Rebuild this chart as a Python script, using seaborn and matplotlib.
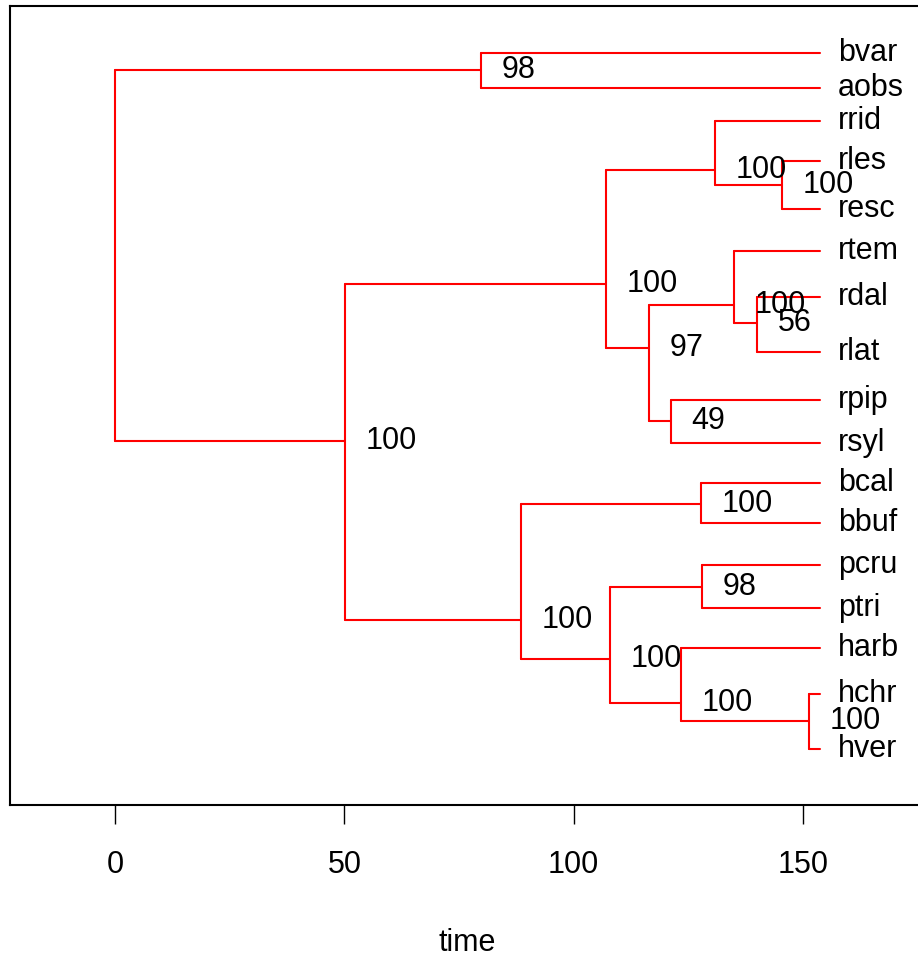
import matplotlib
matplotlib.use("Agg")
import matplotlib.pyplot as plt
import seaborn as sns
import pandas as pd

# ---- data ----
tip_labels = ["bvar", "aobs", "rrid", "rles", "resc", "rtem", "rdal", "rlat",
              "rpip", "rsyl", "bcal", "bbuf", "pcru", "ptri", "harb", "hchr", "hver"]
tip_y = [1.18, 2.06, 2.88, 3.88, 5.09, 6.14, 7.29, 8.65, 9.85, 10.93,
         11.95, 12.93, 13.98, 15.06, 16.07, 17.22, 18.60]
tip_parent = [1, 1, 4, 5, 5, 7, 8, 8, 9, 9, 11, 11, 13, 13, 14, 15, 15]
tip_time = 153.7

node_time = [0.0, 79.8, 50.1, 107.0, 130.8, 145.4, 116.4, 134.9, 140.0,
             121.2, 88.5, 127.8, 107.9, 128.0, 123.4, 151.3]
node_y = [6.24, 1.60, 10.88, 6.97, 4.11, 4.49, 8.57, 7.49, 7.94,
          10.40, 15.36, 12.46, 16.34, 14.54, 17.44, 17.89]
node_parent = [-1, 0, 0, 2, 3, 4, 3, 6, 7, 6, 2, 10, 10, 12, 12, 14]
node_support = [None, 98, 100, 100, 100, 100, 97, 100, 56, 49,
                100, 100, 100, 98, 100, 100]

# ---- build edge segments (horizontal + vertical) ----
children = {i: [] for i in range(len(node_time))}
for i, p in enumerate(node_parent):
    if p >= 0:
        children[p].append(node_y[i])
for j, p in enumerate(tip_parent):
    children[p].append(tip_y[j])

rows = []
seg = 0
for i, p in enumerate(node_parent):
    if p >= 0:
        rows += [(seg, node_time[p], node_y[i]), (seg, node_time[i], node_y[i])]
        seg += 1
for j, p in enumerate(tip_parent):
    rows += [(seg, node_time[p], tip_y[j]), (seg, tip_time, tip_y[j])]
    seg += 1
for i in range(len(node_time)):
    ys = children[i]
    rows += [(seg, node_time[i], min(ys)), (seg, node_time[i], max(ys))]
    seg += 1
df = pd.DataFrame(rows, columns=["seg", "time", "y"])

# ---- plot ----
sns.set_style("white")
plt.rcParams["font.family"] = ["Liberation Sans", "DejaVu Sans"]

W, H = 918, 957
fig = plt.figure(figsize=(W / 100, H / 100), dpi=100)
ax = fig.add_axes([10 / W, (H - 805) / H, (925 - 10) / W, (805 - 6) / H])

sns.lineplot(data=df, x="time", y="y", units="seg", estimator=None, sort=False,
             color="#FF0000", linewidth=1.5, ax=ax, legend=False)

fs = 22
for lab, y in zip(tip_labels, tip_y):
    ax.annotate(lab, (tip_time, y), xytext=(13, 0), textcoords="offset points",
                ha="left", va="center", fontsize=fs, color="black")
for t, y, s in zip(node_time, node_y, node_support):
    if s is not None:
        ax.annotate(str(s), (t, y), xytext=(15, 0), textcoords="offset points",
                    ha="left", va="center", fontsize=fs, color="black")

ax.set_xlim(-22.9, 176.6)
ax.set_ylim(20.0, 0.0)
ax.set_xticks([0, 50, 100, 150])
ax.set_xticklabels(["0", "50", "100", "150"])
ax.set_yticks([])
ax.set_ylabel("")
ax.set_xlabel("time", fontsize=fs, labelpad=34, color="black")
ax.tick_params(axis="x", which="both", bottom=True, length=13.7, width=1.0,
               direction="out", pad=19, labelsize=fs, color="black",
               labelcolor="black")
for sp in ax.spines.values():
    sp.set_color("black")
    sp.set_linewidth(1.5)

fig.savefig("out.png", dpi=100)
